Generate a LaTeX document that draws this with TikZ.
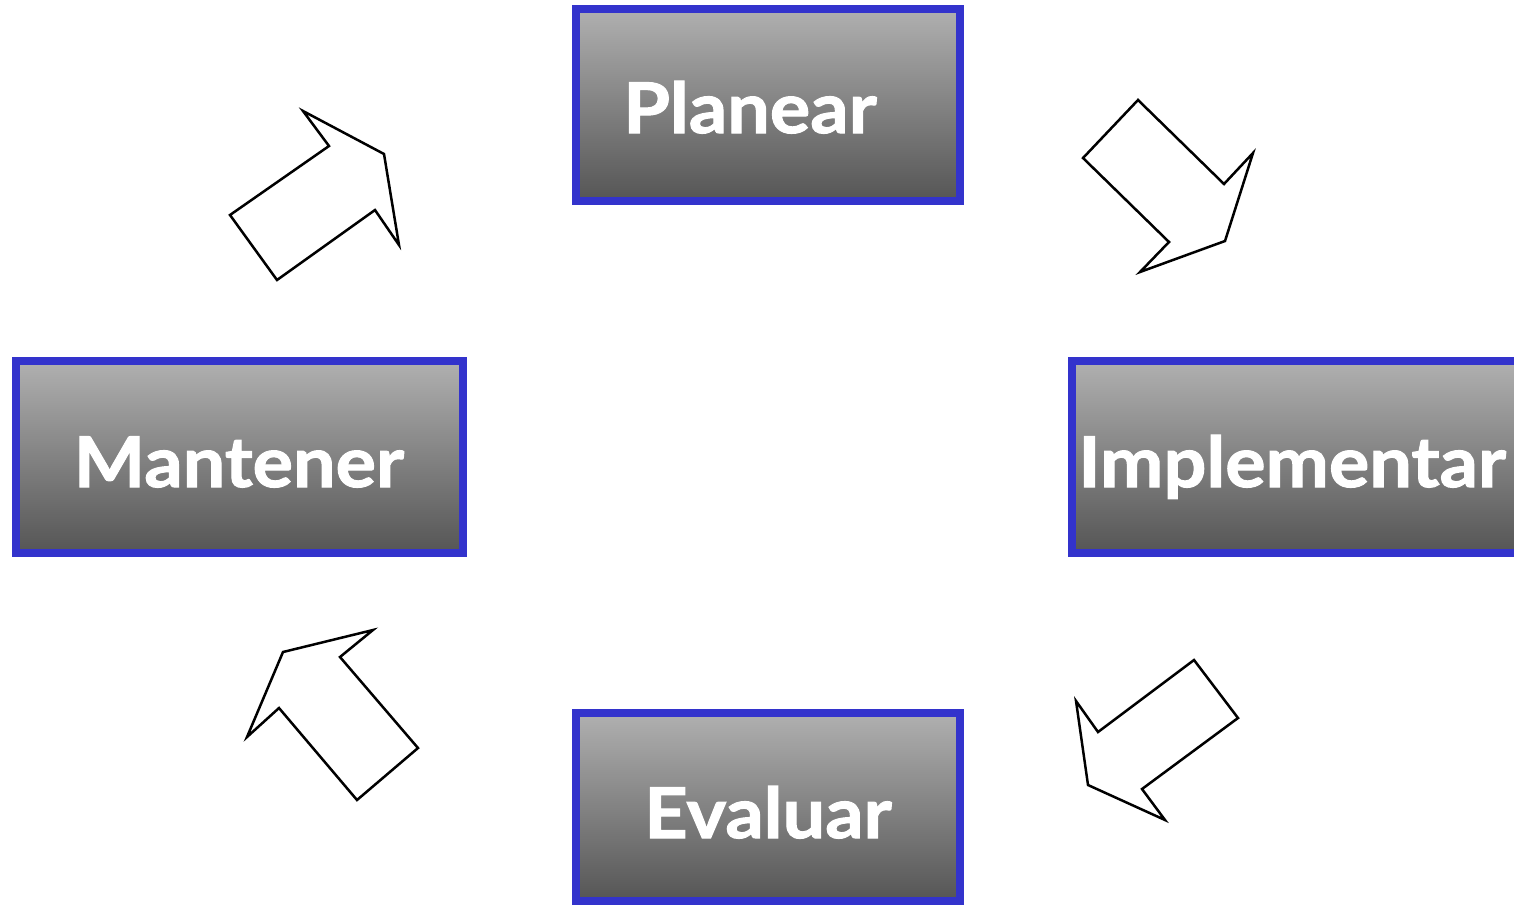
\documentclass[tikz,border=0pt]{standalone}
\usepackage{fontspec}
\newfontfamily\boxfont{Lato}[BoldFeatures={FakeBold=1.5,FakeStretch=1.08}]
\definecolor{boxblue}{HTML}{3333CC}
\definecolor{boxtop}{HTML}{B0B0B0}
\definecolor{boxbottom}{HTML}{555555}
\tikzset{
  step-box/.style   = {rectangle, draw=boxblue, line width=8pt, inner sep=0pt,
                       top color=boxtop, bottom color=boxbottom},
  step-text/.style  = {text=white, inner sep=0pt,
                       font=\boxfont\bfseries\fontsize{70}{70}\selectfont},
  cycle-arrow/.style = {draw=black, fill=white, line width=2.5pt, line join=miter},
}

\begin{document}
\begin{tikzpicture}
  [
    x = 1pt,
    y = -1pt
  ]
  \useasboundingbox (0,0) rectangle (1514,906);
  \node [step-box, minimum width=384pt, minimum height=192pt] (planear) at (768,105) {};
  \node [step-box, minimum width=447.5pt, minimum height=192pt] (mantener) at (239.25,457) {};
  \node [step-box, minimum width=458pt, minimum height=192pt] (implementar) at (1301,457) {};
  \node [step-box, minimum width=384pt, minimum height=188pt] (evaluar) at (768,807) {};
  \node [step-text, anchor=base] (planear-txt) at (750,133) {Planear};
  \node [step-text, anchor=base] (mantener-txt) at (239,487) {Mantener};
  \node [step-text, anchor=base west] (implementar-txt) at (1078,487) {Implementar};
  \node [step-text, anchor=base] (evaluar-txt) at (768,838) {Evaluar};
  \draw [cycle-arrow] (230,215) -- (277,280) -- (375,210) -- (399,245)
    -- (384,154) -- (303,111) -- (329,146) -- cycle;
  \draw [cycle-arrow] (1083,158) -- (1138,100) -- (1224,184) -- (1253,153)
    -- (1225,241) -- (1140,272) -- (1169,242) -- cycle;
  \draw [cycle-arrow] (1194,660) -- (1238,718) -- (1142,789) -- (1165,820)
    -- (1088,785) -- (1076,701) -- (1098,732) -- cycle;
  \draw [cycle-arrow] (283,652) -- (373,630) -- (340,657) -- (418,748)
    -- (357,800) -- (279,708) -- (247,737) -- cycle;
\end{tikzpicture}
\end{document}
